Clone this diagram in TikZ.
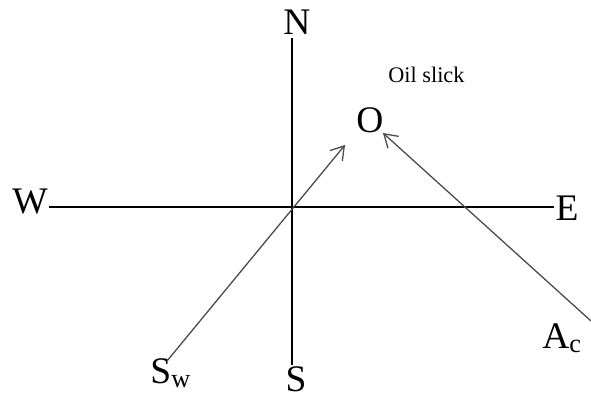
\documentclass[tikz,border=0pt]{standalone}
\usepackage{fontspec}
\setmainfont{Liberation Serif}
\usetikzlibrary{arrows.meta}
\definecolor{driftgray}{HTML}{4A4A4A}
\tikzset{
  compass/.style={font=\fontsize{32}{36}\selectfont, inner sep=1pt, anchor=base},
  axis/.style={draw=black, line width=1pt},
  drift/.style={draw=driftgray, line width=1.1pt,
                -{Straight Barb[length=0.38cm, width=0.48cm, line width=1.1pt]}},
  note/.style={font=\fontsize{19}{22}\selectfont, inner sep=1pt, anchor=base west},
}

\begin{document}
\begin{tikzpicture}[x=0.03cm, y=-0.03cm]
  \useasboundingbox (0,0) rectangle (591,398);
  % compass points
  \coordinate (o) at (292,207);
  \node[compass] (n) at (297,35) {N};
  \node[compass] (s) at (296,391) {S};
  \node[compass] (w) at (30,213) {W};
  \node[compass] (e) at (567,220) {E};
  \coordinate (ntop) at (292,38);
  \coordinate (sbot) at (292,365);
  \draw[axis] (ntop) -- (sbot);
  \draw[axis] (w.east |- o) -- (e.west |- o);
  % slick and drifts
  \node[compass] (slick) at (370,132) {O};
  \node[note] (oil) at (387,83) {Oil slick};
  \node[compass, anchor=base west] (sw) at (149,383) {S\textsubscript{w}};
  \node[compass, anchor=base west] (ac) at (541,348) {A\textsubscript{c}};
  \coordinate (swtail) at (167,361);
  \coordinate (swhead) at (345,145);
  \coordinate (actail) at (591,321);
  \coordinate (achead) at (383,133);
  \draw[drift] (swtail) -- (swhead);
  \draw[drift] (actail) -- (achead);
\end{tikzpicture}
\end{document}
